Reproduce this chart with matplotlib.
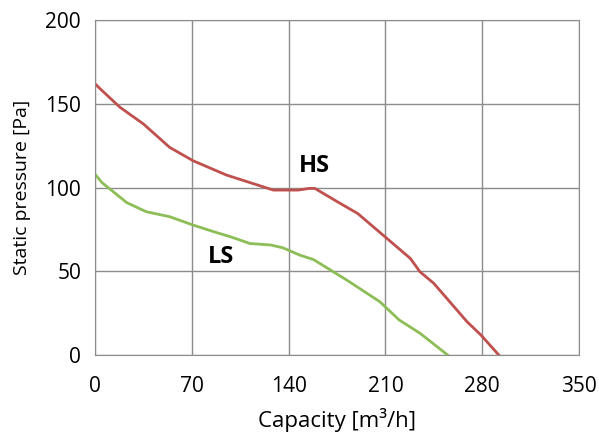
import matplotlib
matplotlib.use('Agg')
import matplotlib.pyplot as plt

plt.rcParams['font.family'] = ['Open Sans', 'DejaVu Sans']

# High speed curve
hs_x = [0, 5, 18, 35, 54, 71, 95, 129, 147, 155, 159, 177, 190, 211, 228, 235, 245, 269, 279, 292]
hs_y = [162, 158, 148, 138, 124, 116, 107.5, 98.5, 98.5, 99.5, 99.5, 90.7, 84.5, 69.7, 57.7, 49.7, 42.8, 19.9, 12, 0]

# Low speed curve
ls_x = [0, 5, 23, 37, 54, 71, 86, 98, 112, 127, 136, 148, 158, 182, 206, 220, 235, 255]
ls_y = [108, 103, 91, 85.6, 82.6, 77.6, 73.6, 70.6, 66.6, 65.7, 64, 59.7, 57, 44.8, 31.8, 20.9, 13, 0]

fig = plt.figure(figsize=(5.99, 4.38), dpi=100)
ax = fig.add_axes([0.1586, 0.1895, 0.808, 0.7645])

ax.plot(hs_x, hs_y, color='#c0504d', lw=2)
ax.plot(ls_x, ls_y, color='#8cbd57', lw=2)

ax.text(158.5, 113, 'HS', fontsize=17, fontweight='bold', ha='center', va='center')
ax.text(91, 58.5, 'LS', fontsize=17, fontweight='bold', ha='center', va='center')

ax.set_xlim(0, 350)
ax.set_ylim(0, 200)
ax.set_xticks(range(0, 351, 70))
ax.set_yticks(range(0, 201, 50))
ax.grid(True, color='#8c8c8c', lw=1)
ax.set_axisbelow(True)
for s in ax.spines.values():
    s.set_color('#8c8c8c')
ax.tick_params(length=0, labelsize=15)
ax.tick_params(axis='x', pad=15)
ax.tick_params(axis='y', pad=10)
ax.set_xlabel('Capacity [m³/h]', fontsize=16, labelpad=8)
ax.set_ylabel('Static pressure [Pa]', fontsize=14, labelpad=10)

fig.savefig('out.png', dpi=100)
